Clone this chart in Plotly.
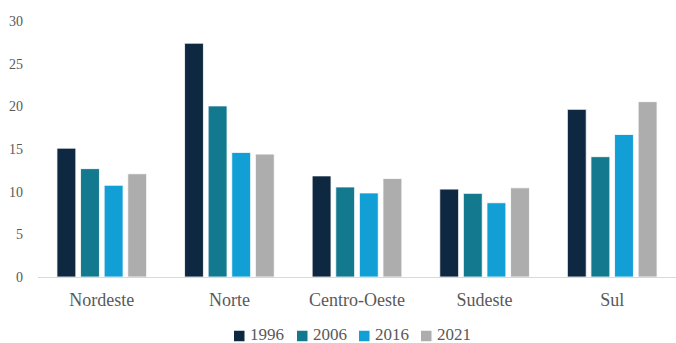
import plotly.graph_objects as go

regions = ["Nordeste", "Norte", "Centro-Oeste", "Sudeste", "Sul"]
years = ["1996", "2006", "2016", "2021"]
v1996 = [15.1, 27.4, 11.85, 10.3, 19.65]
v2006 = [12.7, 20.05, 10.55, 9.8, 14.1]
v2016 = [10.75, 14.6, 9.85, 8.7, 16.7]
v2021 = [12.1, 14.4, 11.55, 10.45, 20.55]
colors = ["#0f2841", "#13798f", "#119fd6", "#adadad"]

series = [v1996, v2006, v2016, v2021]

W, H = 676, 343
fig = go.Figure()
for name, vals, col in zip(years, series, colors):
    fig.add_trace(go.Bar(
        x=regions, y=vals, name=name, showlegend=False,
        marker=dict(color=col, line=dict(color="white", width=0.8)),
    ))

font_family = '"Liberation Serif", "DejaVu Serif", serif'
text_color = "#595959"

# Legend row: colour swatch followed by the year label
legend_x = [234, 297, 359, 421]
legend_y = 336
sw = 10.5
for px, name, col in zip(legend_x, years, colors):
    fig.add_shape(type="rect", xref="paper", yref="paper",
                  x0=(px - 38) / (W - 38), x1=(px + sw - 38) / (W - 38),
                  y0=(H - 66 - (legend_y + sw / 2)) / (H - 66 - 21),
                  y1=(H - 66 - (legend_y - sw / 2)) / (H - 66 - 21),
                  fillcolor=col, line=dict(width=0))
    fig.add_annotation(xref="paper", yref="paper",
                       x=(px + sw + 3 - 38) / (W - 38),
                       y=(H - 66 - legend_y + 2) / (H - 66 - 21),
                       text=name, showarrow=False, xanchor="left", yanchor="middle",
                       font=dict(family=font_family, size=17, color=text_color))

fig.update_layout(
    width=W, height=H,
    margin=dict(l=38, r=0, t=21, b=66, autoexpand=False),
    paper_bgcolor="white", plot_bgcolor="white",
    barmode="group", bargap=0.26, bargroupgap=0.2,
    font=dict(family=font_family, color=text_color),
    showlegend=False,
    xaxis=dict(showline=True, linecolor="#d9d9d9", linewidth=1, ticks="",
               ticklabelstandoff=6,
               tickfont=dict(size=18, color=text_color), showgrid=False),
    yaxis=dict(range=[0, 30], dtick=5, showgrid=False, zeroline=False,
               showline=False, ticks="", ticklabelstandoff=14,
               tickfont=dict(size=14, color=text_color)),
)

fig.write_html("out.html")
